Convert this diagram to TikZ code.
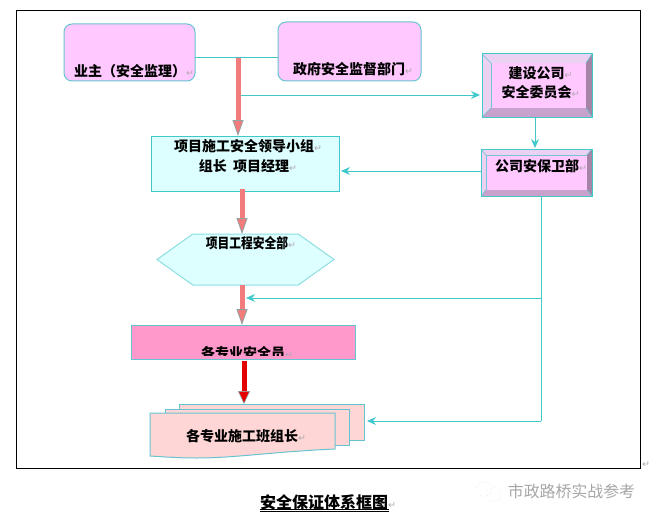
\documentclass[tikz,border=0pt]{standalone}
\usepackage{fontspec}
\usepackage{xcolor}
\usetikzlibrary{arrows.meta,shapes.symbols}
\setmainfont{Noto Sans CJK SC}
\newfontfamily\markfont{DejaVu Sans}
\definecolor{flowc}{HTML}{40C8CC}
\definecolor{facec}{HTML}{FFC8FF}
\definecolor{edgec}{HTML}{66C4D0}
\definecolor{lightc}{HTML}{DDFFFF}
\definecolor{pinkc}{HTML}{FF99CC}
\definecolor{crewc}{HTML}{FFD6D6}
\definecolor{salmonc}{HTML}{F27C7C}
\definecolor{tipc}{HTML}{8FA3A3}
\definecolor{markc}{HTML}{B0A8B0}
\definecolor{bevellight}{HTML}{EBD2F2}
\definecolor{bevelbottom}{HTML}{C8A2CC}
\definecolor{bevelright}{HTML}{A584A8}
\newcommand{\retmark}{{\markfont\mdseries\color{markc}\fontsize{9.5}{9.5}\selectfont ↵}}
\newcommand{\bevel}[2]{
\fill[bevellight] (#1.north west)--(#1.north east)--(#2.north east)--(#2.north west)--cycle;
\fill[bevellight] (#1.north west)--(#1.south west)--(#2.south west)--(#2.north west)--cycle;
\fill[bevelbottom] (#1.south west)--(#1.south east)--(#2.south east)--(#2.south west)--cycle;
\fill[bevelright] (#1.north east)--(#1.south east)--(#2.south east)--(#2.north east)--cycle;
\draw[edgec,line width=0.6pt] (#1.north west)--(#2.north west) (#1.south west)--(#2.south west) (#1.north east)--(#2.north east) (#1.south east)--(#2.south east);
\draw[flowc,line width=1pt] (#1.north west) rectangle (#1.south east);
}

\begin{document}
\begin{tikzpicture}[x=1pt,y=-1pt,>={Stealth[length=9pt,width=8pt]},
  boxline/.style={draw=edgec,line width=1pt,inner sep=0pt,outer sep=0pt},
  flow/.style={draw=flowc,line width=1pt},
  label/.style={inner sep=0pt,font=\fontsize{14}{20}\selectfont\bfseries,align=center},
  heavy/.style={line width=5pt,salmonc,-{Triangle[length=16pt,width=11pt,line width=0.8pt,color=tipc,fill=salmonc]}},
  heavyred/.style={line width=5pt,red!90!black,-{Triangle[length=13pt,width=12pt,line width=0.6pt,color=tipc,fill=red!90!black]}},
  crewbox/.style={draw=edgec,line width=1pt,fill=crewc}]

\useasboundingbox (0,0) rectangle (656,519);

\node(frame) at (328,239.5)[draw,line width=1pt,minimum width=624,minimum height=457,inner sep=0pt] {};

\node(owner) at (129.5,52.5)[boxline,rounded corners=8pt,fill=facec,minimum width=131,minimum height=57] {};
\node(govt) at (349.5,51.5)[boxline,rounded corners=8pt,fill=facec,minimum width=143,minimum height=59] {};
\node(build) at (537,85.5)[boxline,minimum width=110,minimum height=63] {};
\node(buildin) at (538.5,85.5)[boxline,fill=facec,minimum width=95,minimum height=45] {};
\node(sec) at (536.5,172.5)[boxline,minimum width=111,minimum height=47] {};
\node(secin) at (536.5,172.5)[boxline,fill=facec,minimum width=101,minimum height=35] {};
\bevel{build}{buildin}
\bevel{sec}{secin}
\node(leader) at (245,163.5)[boxline,draw=flowc,fill=lightc,minimum width=188,minimum height=55] {};
\node(hex) at (245.5,259.5)[shape=signal,signal to=west and east,signal pointer angle=71,boxline,draw=flowc!60!white,fill=lightc,minimum width=177,minimum height=51] {};
\node(pink) at (243,342)[boxline,fill=pinkc,minimum width=224,minimum height=34] {};

\draw[crewbox] (179,404) -- (364,404) -- (364,440) -- (179,440) -- cycle;
\draw[crewbox] (165,409) -- (349,409) -- (349,445) -- (165,445) -- cycle;
\draw[crewbox] (150,413) -- (335,413) -- (335,449) .. controls (270,452) and (235,458) .. (197,458) .. controls (180,458) and (165,457) .. (150,456) -- cycle;

\coordinate(j1) at (238,58);
\coordinate(j2) at (238,95);
\coordinate(j3) at (400,171);
\coordinate(j4) at (535,130);
\coordinate(tap) at (242,260);
\coordinate(bus) at (541,298);
\coordinate(side) at (246,298);
\coordinate(redtop) at (244,361);
\coordinate(crewtop) at (244,404);
\coordinate(crewside) at (364,421);

\node(ownert) at (134,71)[label] {业主（安全监理）\retmark};
\node(govtt) at (353,69)[label] {政府安全监督部门\retmark};
\node(buildt) at (540.5,82.5)[label,font=\fontsize{14}{19}\selectfont\bfseries] {建设公司\retmark\\安全委员会\retmark};
\node(sect) at (541,166)[label] {公司安保卫部\retmark};
\node(leadert) at (248,156)[label] {项目施工安全领导小组\retmark\\组长\ \ 项目经理\retmark};
\node(hext) at (251,243)[label] {\scalebox{0.84}[1]{项目工程安全部}\retmark};
\begin{scope}
\clip (131,325) rectangle (355,355.5);
\node(pinkt) at (247,353)[label] {各专业安全员\retmark};
\end{scope}
\node(crewt) at (246,436)[label] {各专业施工班组长\retmark};
\node(caption) at (328,502)[label,font=\fontsize{16}{20}\selectfont\bfseries] {安全保证体系框图\retmark};
\node(para) at (646,465)[label] {\retmark};
\node(wechat) at (484,489)[circle,draw=gray!35,dotted,minimum size=15pt,inner sep=0pt] {};
\node(wechat2) at (494,494)[circle,draw=gray!35,dotted,minimum size=15pt,inner sep=0pt] {};
\node(mark) at (571.5,491)[inner sep=0pt,text=gray!70,font=\fontsize{15.9}{18}\selectfont] {市政路桥实战参考};

\draw[flow] (j1 -| owner.east) -- (j1 -| govt.west);
\draw[flow,->,shorten >=2pt] (j2) -- (j2 -| build.west);
\draw[flow,->,shorten >=1pt] (j4 |- build.south) -- (j4 |- sec.north);
\draw[flow,->,shorten >=2pt] (j3 -| sec.west) -- (j3 -| leader.east);
\draw[flow] (bus |- sec.south) -- (bus |- crewside);
\draw[flow,->] (bus) -- (side);
\draw[flow,->,shorten >=3pt] (bus |- crewside) -- (crewside);
\draw[heavy] (j1) -- (j1 |- leader.north);
\draw[heavy] ([yshift=2pt]tap |- leader.south) -- (tap |- hex.north);
\draw[heavy] (tap |- hex.south) -- (tap |- pink.north);
\draw[heavyred] (redtop) -- (crewtop);
\draw[line width=0.8pt] ([yshift=1pt]caption.south west) -- ([xshift=-7pt,yshift=1pt]caption.south east);
\draw[line width=0.8pt] ([yshift=-1pt]caption.south west) -- ([xshift=-7pt,yshift=-1pt]caption.south east);

\end{tikzpicture}
\end{document}
